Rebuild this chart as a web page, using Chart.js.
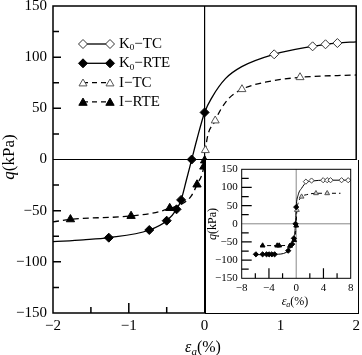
<!DOCTYPE html>
<html><head><meta charset="utf-8">
<script src="https://cdn.jsdelivr.net/npm/chart.js"></script>
<style>
html,body{margin:0;padding:0;background:#fff;}
#wrap{position:relative;width:362px;height:355px;overflow:hidden;background:#fff;}
#main{position:absolute;left:0;top:0;}
#insetBox{position:absolute;left:205px;top:160px;width:154px;height:154px;border:1px solid #000;border-top:none;box-sizing:border-box;background:#fff;}
#inset{position:absolute;left:0;top:0;}
</style></head><body>
<div id="wrap">
<canvas id="main" width="362" height="355"></canvas>
<div id="insetBox"><canvas id="inset" width="152" height="153"></canvas></div>
</div>
<script>
// ---------- main chart data ----------
const xTicks = [-2, -1, 0, 1, 2];
const xMinorTicks = [-1.5, -0.5, 0.5, 1.5];
const yTicks = [-150, -100, -50, 0, 50, 100, 150];
const yMinorTicks = [-125, -75, -25, 25, 75, 125];

const k0CurveX = [-2, -1.6, -1.264, -0.73, -0.5, -0.37, -0.31, -0.24, -0.17, -0.1, 0, 0.1, 0.275, 0.49, 0.918, 1.425, 1.595, 1.752, 2];
const k0CurveQ = [-80.3, -78.5, -76.4, -68.9, -59.8, -48.7, -39.5, -20, 0, 20, 46, 61, 79, 90.7, 102.8, 110.6, 112.6, 113.8, 115];
const iCurveX = [-2, -1.77, -0.97, -0.6, -0.46, -0.34, -0.18, -0.1, -0.01, 0, 0.01, 0.14, 0.3, 0.493, 0.8, 1.259, 2];
const iCurveQ = [-61, -58.5, -55.2, -51, -47.5, -45, -36, -24.5, -7, -1, 9, 38, 58, 68.6, 75.5, 80.3, 82.6];

const k0TcX = [0.918, 1.425, 1.595, 1.752];
const k0TcQ = [102.8, 110.6, 112.6, 113.8];
const k0RteX = [0, -0.17, -0.31, -0.37, -0.5, -0.73, -1.264];
const k0RteQ = [46, 0, -39.5, -48.7, -59.8, -68.9, -76.4];
const iTcX = [0.01, 0.14, 0.493, 1.259];
const iTcQ = [9, 38, 68.6, 80.3];
const iRteX = [0, -0.01, -0.1, -0.46, -0.97, -1.77];
const iRteQ = [-1, -7, -24.5, -47.5, -55.2, -58.5];

const legendLabels = [["K", "0", "\u2212TC"], ["K", "0", "\u2212RTE"], ["I\u2212TC"], ["I\u2212RTE"]];

// ---------- inset data ----------
const inXTicks = [-8, -4, 0, 4, 8];
const inXMinorTicks = [-6, -2, 2, 6];
const inYTicks = [-150, -100, -50, 0, 50, 100, 150];
const inYMinorTicks = [-125, -75, -25, 25, 75, 125];

const inK0CurveX = [-6, -3, -1.5, -1, -0.6, -0.3, -0.1, 0, 0.3, 0.8, 1.5, 2.5, 4, 8];
const inK0CurveQ = [-85, -84, -79, -70, -54, -35, 0, 46, 80, 98, 114, 118, 120, 120];
const inICurveX = [-5.3, -4.93, -2.5, -1.2, -0.6, -0.3, -0.1, 0, 0.1, 0.3, 0.79, 1.5, 2.9, 4.55, 6.5];
const inICurveQ = [-61, -60, -60, -59, -53, -45, -25, 0, 38, 58, 74.6, 80, 84, 84, 84];

const inK0TcX = [1.42, 2.25, 3.96, 4.55, 5.04, 6.66, 7.63];
const inK0TcQ = [116, 119, 120, 120, 120, 120, 120];
const inK0RteX = [-5.92, -4.93, -4.35, -3.96, -3.57, -3.17, -1.17, -0.59, -0.34, -0.1, 0];
const inK0RteQ = [-84, -84, -84, -84, -84, -84, -74, -56, -40, 0, 46];
const inITcX = [0.1, 0.79, 2.9, 4.55];
const inITcQ = [38, 74.6, 84, 84];
const inIRteX = [-4.93, -2.79, -2.5, -0.92, -0.3, 0];
const inIRteQ = [-60, -60, -60, -61, -45, -5];

// ---------- helpers ----------
const SERIF = "Liberation Serif";
const pts = (xs, ys) => xs.map((x, i) => ({x: x, y: ys[i]}));
const minusFmt = v => String(v).replace('-', '\u2212');

function richWidth(ctx, parts) {
  let w = 0;
  parts.forEach(p => { ctx.font = p.font; w += ctx.measureText(p.t).width; });
  return w;
}
function drawRich(ctx, parts, x, y, align) {
  ctx.textBaseline = 'middle';
  ctx.textAlign = 'left';
  let w = richWidth(ctx, parts);
  let cx = align === 'center' ? x - w / 2 : x;
  parts.forEach(p => {
    ctx.font = p.font;
    ctx.fillText(p.t, cx, y + (p.dy || 0));
    cx += ctx.measureText(p.t).width;
  });
}
function diamond(ctx, x, y, r, fill, stroke) {
  ctx.beginPath();
  ctx.moveTo(x - r, y); ctx.lineTo(x, y - r); ctx.lineTo(x + r, y); ctx.lineTo(x, y + r); ctx.closePath();
  ctx.fillStyle = fill; ctx.fill(); ctx.strokeStyle = stroke; ctx.lineWidth = 1; ctx.stroke();
}
function triangle(ctx, x, y, r, fill, stroke) {
  ctx.beginPath();
  ctx.moveTo(x, y - r);
  ctx.lineTo(x + r * 0.866, y + r / 2);
  ctx.lineTo(x - r * 0.866, y + r / 2);
  ctx.closePath();
  ctx.fillStyle = fill; ctx.fill(); ctx.strokeStyle = stroke; ctx.lineWidth = 1; ctx.stroke();
}

function axesPlugin(o) {
  return {
    id: 'axes_' + o.name,
    beforeDatasetsDraw(chart) {
      const ctx = chart.ctx, a = chart.chartArea, xs = chart.scales.x, ys = chart.scales.y;
      ctx.save();
      ctx.strokeStyle = o.zeroColor; ctx.lineWidth = o.zeroWidth;
      const x0 = xs.getPixelForValue(0), y0 = ys.getPixelForValue(0);
      ctx.beginPath();
      ctx.moveTo(x0, a.top); ctx.lineTo(x0, a.bottom);
      ctx.moveTo(a.left, y0); ctx.lineTo(a.right, y0);
      ctx.stroke();
      ctx.restore();
    },
    afterDatasetsDraw(chart) {
      const ctx = chart.ctx, a = chart.chartArea, xs = chart.scales.x, ys = chart.scales.y;
      ctx.save();
      ctx.strokeStyle = '#000';
      ctx.lineWidth = o.tickWidth;
      ctx.beginPath();
      o.xMajor.forEach(v => { if (v === 0 || v === o.xMajor[0] || v === o.xMajor[o.xMajor.length-1]) return; const p = xs.getPixelForValue(v); ctx.moveTo(p, a.bottom); ctx.lineTo(p, a.bottom - o.xMajorLen); });
      o.xMinor.forEach(v => { const p = xs.getPixelForValue(v); ctx.moveTo(p, a.bottom); ctx.lineTo(p, a.bottom - o.xMinorLen); });
      o.yMajor.forEach(v => { if (v === 0 || v === o.yMajor[0] || v === o.yMajor[o.yMajor.length-1]) return; const p = ys.getPixelForValue(v); ctx.moveTo(a.left, p); ctx.lineTo(a.left + o.yMajorLen, p); });
      o.yMinor.forEach(v => { const p = ys.getPixelForValue(v); ctx.moveTo(a.left, p); ctx.lineTo(a.left + o.yMinorLen, p); });
      ctx.stroke();
      ctx.lineWidth = o.frameWidth;
      ctx.strokeRect(a.left, a.top, a.right - a.left, a.bottom - a.top);
      ctx.restore();
    },
    afterDraw(chart) {
      const ctx = chart.ctx;
      ctx.save();
      ctx.fillStyle = '#000';
      drawRich(ctx, o.xTitle.parts, o.xTitle.x, o.xTitle.y, 'center');
      ctx.translate(o.yTitle.x, o.yTitle.y);
      ctx.rotate(-Math.PI / 2);
      drawRich(ctx, o.yTitle.parts, 0, 0, 'center');
      ctx.restore();
      if (o.legend) o.legend(ctx);
    }
  };
}

function scalesCfg(o) {
  return {
    x: {
      type: 'linear', min: o.xMin, max: o.xMax,
      grid: {display: false, drawTicks: false}, border: {display: false},
      ticks: {font: {family: SERIF, size: o.tickSize}, color: '#000', padding: o.xPad, maxRotation: 0, autoSkip: false, callback: minusFmt},
      afterBuildTicks: s => { s.ticks = o.xTicks.map(v => ({value: v})); },
      afterFit: s => { s.height = o.xHeight; s.paddingLeft = 0; s.paddingRight = 0; }
    },
    y: {
      type: 'linear', min: o.yMin, max: o.yMax,
      grid: {display: false, drawTicks: false}, border: {display: false},
      ticks: {font: {family: SERIF, size: o.tickSize}, color: '#000', padding: o.yPad, autoSkip: false, callback: minusFmt},
      afterBuildTicks: s => { s.ticks = o.yTicks.map(v => ({value: v})); },
      afterFit: s => { s.width = o.yWidth; s.paddingTop = 0; s.paddingBottom = 0; }
    }
  };
}

function markerSet(data, style, r, fill, stroke) {
  return {data: data, showLine: false, pointStyle: style, pointRadius: r, pointHoverRadius: r,
    pointBackgroundColor: fill, pointBorderColor: stroke, pointBorderWidth: 1, borderColor: stroke, backgroundColor: fill};
}
function curveSet(data, dash, w) {
  return {data: data, pointRadius: 0, borderColor: '#000', borderWidth: w, borderDash: dash,
    cubicInterpolationMode: 'monotone', fill: false, clip: 2};
}

// ---------- main chart ----------
new Chart(document.getElementById('main'), {
  type: 'line',
  data: {
    datasets: [
      markerSet(pts(k0RteX, k0RteQ), 'rectRot', 4.5, '#000', '#000'),
      markerSet(pts(iRteX, iRteQ), 'triangle', 4.8, '#000', '#000'),
      markerSet(pts(k0TcX, k0TcQ), 'rectRot', 4.5, '#fff', '#333'),
      markerSet(pts(iTcX, iTcQ), 'triangle', 4.6, '#fff', '#555'),
      curveSet(pts(k0CurveX, k0CurveQ), [], 1.3),
      curveSet(pts(iCurveX, iCurveQ), [6, 4], 1.3)
    ]
  },
  options: {
    responsive: false, animation: false, devicePixelRatio: 1,
    layout: {padding: {left: 0, right: 4, top: 6, bottom: 0}},
    plugins: {legend: {display: false}, tooltip: {enabled: false}},
    scales: scalesCfg({xMin: -2, xMax: 2, yMin: -150, yMax: 150, xTicks: xTicks, yTicks: yTicks,
      tickSize: 15, xPad: 4, yPad: 6, xHeight: 42, yWidth: 53})
  },
  plugins: [axesPlugin({
    name: 'main', zeroColor: '#000', zeroWidth: 1.2, tickWidth: 1.5, frameWidth: 1.5,
    xMajor: xTicks, xMinor: xMinorTicks, yMajor: yTicks, yMinor: yMinorTicks,
    xMajorLen: 10, xMinorLen: 6, yMajorLen: 8, yMinorLen: 6,
    xTitle: {x: 203, y: 348, parts: [
      {t: '\u03b5', font: 'italic 16px ' + SERIF},
      {t: 'a', font: 'italic 11px ' + SERIF, dy: 4},
      {t: '(%)', font: '16px ' + SERIF}]},
    yTitle: {x: 10, y: 157, parts: [
      {t: 'q', font: 'italic 17px ' + SERIF},
      {t: '(kPa)', font: '17px ' + SERIF}]},
    legend: function (ctx) {
      const rows = [44, 63.3, 82.6, 101.9];
      const x1 = 83, x2 = 110, tx = 119;
      rows.forEach((y, i) => {
        ctx.save();
        ctx.strokeStyle = '#000'; ctx.lineWidth = 1.3;
        ctx.setLineDash(i < 2 ? [] : [5, 4]);
        ctx.beginPath(); ctx.moveTo(x1, y); ctx.lineTo(x2, y); ctx.stroke();
        ctx.setLineDash([]);
        [x1, x2].forEach(px => {
          if (i === 0) diamond(ctx, px, y, 4.5, '#fff', '#333');
          if (i === 1) diamond(ctx, px, y, 4.5, '#000', '#000');
          if (i === 2) triangle(ctx, px, y + 1, 4.6, '#fff', '#555');
          if (i === 3) triangle(ctx, px, y + 1, 4.8, '#000', '#000');
        });
        ctx.fillStyle = '#000';
        const L = legendLabels[i];
        const parts = L.length === 3
          ? [{t: L[0], font: '15px ' + SERIF}, {t: L[1], font: '9px ' + SERIF, dy: 4}, {t: L[2], font: '15px ' + SERIF}]
          : [{t: L[0], font: '15px ' + SERIF}];
        drawRich(ctx, parts, tx, y, 'left');
        ctx.restore();
      });
    }
  })]
});

// ---------- inset chart ----------
new Chart(document.getElementById('inset'), {
  type: 'line',
  data: {
    datasets: [
      markerSet(pts(inK0RteX, inK0RteQ), 'rectRot', 2.6, '#000', '#000'),
      markerSet(pts(inIRteX, inIRteQ), 'triangle', 2.8, '#000', '#000'),
      markerSet(pts(inK0TcX, inK0TcQ), 'rectRot', 2.6, '#fff', '#444'),
      markerSet(pts(inITcX, inITcQ), 'triangle', 2.8, '#ccc', '#555'),
      curveSet(pts(inK0CurveX, inK0CurveQ), [], 1),
      curveSet(pts(inICurveX, inICurveQ), [4, 3], 1)
    ]
  },
  options: {
    responsive: false, animation: false, devicePixelRatio: 1,
    layout: {padding: {left: 0, right: 7.3, top: 9.3, bottom: 0}},
    plugins: {legend: {display: false}, tooltip: {enabled: false}},
    scales: scalesCfg({xMin: -8, xMax: 8, yMin: -150, yMax: 150, xTicks: inXTicks, yTicks: inYTicks,
      tickSize: 11, xPad: 3, yPad: 4, xHeight: 34.7, yWidth: 35.7})
  },
  plugins: [axesPlugin({
    name: 'inset', zeroColor: '#888', zeroWidth: 1, tickWidth: 1.2, frameWidth: 1,
    xMajor: inXTicks, xMinor: inXMinorTicks, yMajor: inYTicks, yMinor: inYMinorTicks,
    xMajorLen: 10, xMinorLen: 5, yMajorLen: 10, yMinorLen: 7,
    xTitle: {x: 89, y: 142, parts: [
      {t: '\u03b5', font: 'italic 12px ' + SERIF},
      {t: 'a', font: 'italic 8px ' + SERIF, dy: 3},
      {t: '(%)', font: '12px ' + SERIF}]},
    yTitle: {x: 7, y: 64, parts: [
      {t: 'q', font: 'italic 12px ' + SERIF},
      {t: '(kPa)', font: '12px ' + SERIF}]}
  })]
});
</script>
</body></html>
